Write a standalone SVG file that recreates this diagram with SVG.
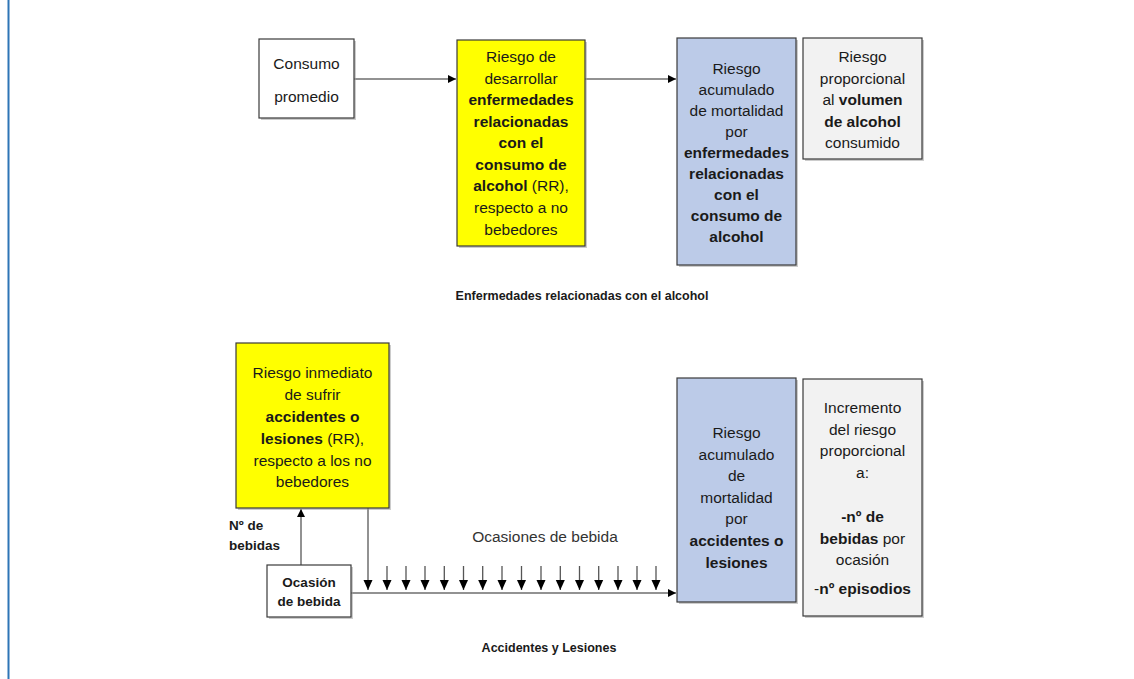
<svg xmlns="http://www.w3.org/2000/svg" width="1134" height="679" viewBox="0 0 1134 679">
<style>
.box{stroke:#3a3a3a;stroke-width:1.2}
.w{fill:#ffffff}.y{fill:#ffff00}.b{fill:#bccbe8}.g{fill:#f2f2f2}
.sh{fill:#9a9a9a;opacity:0.5}
text{font-family:"Liberation Sans",Arial,sans-serif;fill:#1a1a1a;text-anchor:middle}
.t{font-size:15.5px}
.bd{font-weight:bold}
.sm{font-size:13.5px;font-weight:bold}
.cap{font-size:12.5px;font-weight:bold}
.ln{stroke:#6e6e6e;stroke-width:1.5;fill:none}
.sa{stroke:#555;stroke-width:1.3;fill:none}
</style>
<defs>
<marker id="ah" viewBox="0 0 10 10" refX="10" refY="5" markerWidth="8" markerHeight="8" markerUnits="userSpaceOnUse" orient="auto">
<path d="M0,0 L10,5 L0,10 z" fill="#000"/>
</marker>
<marker id="ah2" viewBox="0 0 10 10" refX="10" refY="5" markerWidth="10" markerHeight="10" markerUnits="userSpaceOnUse" orient="auto">
<path d="M0,0.5 L10,5 L0,9.5 z" fill="#000"/>
</marker>
</defs>
<rect width="1134" height="679" fill="#ffffff"/>
<line x1="8.5" y1="0" x2="8.5" y2="679" stroke="#2e75b6" stroke-width="2"/>

<g id="connectors">
<line class="ln" x1="354" y1="79" x2="456" y2="79" marker-end="url(#ah)"/>
<line class="ln" x1="585" y1="79" x2="676" y2="79" marker-end="url(#ah)"/>
<line class="ln" x1="301" y1="565" x2="301" y2="509" marker-end="url(#ah)"/>
<line class="ln" x1="351" y1="593" x2="676" y2="593" marker-end="url(#ah)"/>
<line class="ln" x1="368" y1="508" x2="368" y2="590" marker-end="url(#ah2)"/>
<g class="sa" marker-end="url(#ah2)">
<line x1="387" y1="566" x2="387" y2="590"/>
<line x1="406" y1="566" x2="406" y2="590"/>
<line x1="425" y1="566" x2="425" y2="590"/>
<line x1="444.3" y1="566" x2="444.3" y2="590"/>
<line x1="463.5" y1="566" x2="463.5" y2="590"/>
<line x1="482.7" y1="566" x2="482.7" y2="590"/>
<line x1="502" y1="566" x2="502" y2="590"/>
<line x1="521.5" y1="566" x2="521.5" y2="590"/>
<line x1="541" y1="566" x2="541" y2="590"/>
<line x1="560.3" y1="566" x2="560.3" y2="590"/>
<line x1="579.5" y1="566" x2="579.5" y2="590"/>
<line x1="598.7" y1="566" x2="598.7" y2="590"/>
<line x1="618" y1="566" x2="618" y2="590"/>
<line x1="637" y1="566" x2="637" y2="590"/>
<line x1="656" y1="566" x2="656" y2="590"/>
</g>
</g>

<g id="consumo">
<rect class="sh" x="261" y="41" width="95" height="79"/>
<rect class="box w" x="259" y="39" width="95" height="79"/>
<text class="t" x="306.5" y="69">Consumo</text>
<text class="t" x="306.5" y="102">promedio</text>
</g>

<g id="riesgo-enf">
<rect class="sh" x="459" y="42" width="128" height="206"/>
<rect class="box y" x="457" y="40" width="128" height="206"/>
<text class="t" x="521" y="62">Riesgo de</text>
<text class="t" x="521" y="83.5">desarrollar</text>
<text class="t bd" x="521" y="105">enfermedades</text>
<text class="t bd" x="521" y="126.5">relacionadas</text>
<text class="t bd" x="521" y="148">con el</text>
<text class="t bd" x="521" y="169.5">consumo de</text>
<text class="t" x="521" y="191"><tspan class="bd">alcohol</tspan> (RR),</text>
<text class="t" x="521" y="213">respecto a no</text>
<text class="t" x="521" y="235">bebedores</text>
</g>

<g id="mort-enf">
<rect class="sh" x="679" y="40" width="119" height="227"/>
<rect class="box b" x="677" y="38" width="119" height="227"/>
<text class="t" x="736.5" y="74">Riesgo</text>
<text class="t" x="736.5" y="95">acumulado</text>
<text class="t" x="736.5" y="116">de mortalidad</text>
<text class="t" x="736.5" y="137">por</text>
<text class="t bd" x="736.5" y="158">enfermedades</text>
<text class="t bd" x="736.5" y="179">relacionadas</text>
<text class="t bd" x="736.5" y="200">con el</text>
<text class="t bd" x="736.5" y="220.5">consumo de</text>
<text class="t bd" x="736.5" y="241.5">alcohol</text>
</g>

<g id="prop-vol">
<rect class="sh" x="805" y="40" width="119" height="121"/>
<rect class="box g" x="803" y="38" width="119" height="121"/>
<text class="t" x="862.5" y="62">Riesgo</text>
<text class="t" x="862.5" y="83.5">proporcional</text>
<text class="t" x="862.5" y="105">al <tspan class="bd">volumen</tspan></text>
<text class="t bd" x="862.5" y="126.5">de alcohol</text>
<text class="t" x="862.5" y="148">consumido</text>
</g>

<text class="cap" x="582" y="300">Enfermedades relacionadas con el alcohol</text>

<g id="riesgo-acc">
<rect class="sh" x="238" y="345" width="153" height="165"/>
<rect class="box y" x="236" y="343" width="153" height="165"/>
<text class="t" x="312.5" y="378">Riesgo inmediato</text>
<text class="t" x="312.5" y="400">de sufrir</text>
<text class="t bd" x="312.5" y="422">accidentes o</text>
<text class="t" x="312.5" y="444"><tspan class="bd">lesiones</tspan> (RR),</text>
<text class="t" x="312.5" y="466">respecto a los no</text>
<text class="t" x="312.5" y="487">bebedores</text>
</g>

<g id="n-bebidas">
<text class="sm" x="229" y="530" style="text-anchor:start">Nº de</text>
<text class="sm" x="229" y="550" style="text-anchor:start">bebidas</text>
</g>

<g id="ocasion">
<rect class="sh" x="269" y="567" width="84" height="52"/>
<rect class="box w" x="267" y="565" width="84" height="52"/>
<text class="sm" x="309" y="587">Ocasión</text>
<text class="sm" x="309" y="606">de bebida</text>
</g>

<text class="t" x="545" y="542" style="fill:#333">Ocasiones de bebida</text>

<g id="mort-acc">
<rect class="sh" x="679" y="380" width="119" height="224"/>
<rect class="box b" x="677" y="378" width="119" height="224"/>
<text class="t" x="736.5" y="438">Riesgo</text>
<text class="t" x="736.5" y="459.5">acumulado</text>
<text class="t" x="736.5" y="481">de</text>
<text class="t" x="736.5" y="502.5">mortalidad</text>
<text class="t" x="736.5" y="524">por</text>
<text class="t bd" x="736.5" y="546">accidentes o</text>
<text class="t bd" x="736.5" y="567.5">lesiones</text>
</g>

<g id="incremento">
<rect class="sh" x="805" y="381" width="119" height="237"/>
<rect class="box g" x="803" y="379" width="119" height="237"/>
<text class="t" x="862.5" y="413">Incremento</text>
<text class="t" x="862.5" y="435">del riesgo</text>
<text class="t" x="862.5" y="456">proporcional</text>
<text class="t" x="862.5" y="478">a:</text>
<text class="t bd" x="862.5" y="522">-nº de</text>
<text class="t" x="862.5" y="544"><tspan class="bd">bebidas</tspan> por</text>
<text class="t" x="862.5" y="565">ocasión</text>
<text class="t" x="862.5" y="594">-<tspan class="bd">nº episodios</tspan></text>
</g>

<text class="cap" x="549" y="652">Accidentes y Lesiones</text>
</svg>
